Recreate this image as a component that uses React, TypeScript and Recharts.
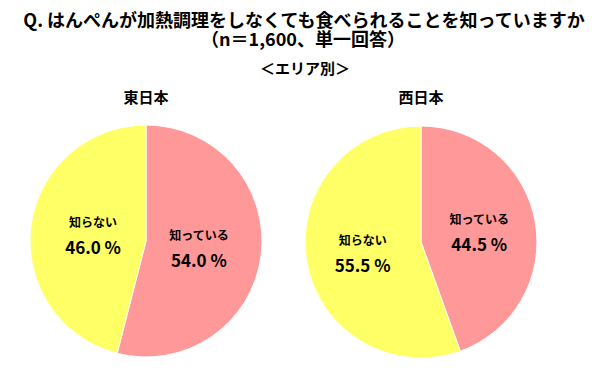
import React from 'react';
import { PieChart, Pie, Cell } from 'recharts';

const categories = ['知っている', '知らない'];
const eastValues = [54.0, 46.0];
const westValues = [44.5, 55.5];
const regionTitles = ['東日本', '西日本'];
const colors = ['#FF9999', '#FFFF66'];

const titleLine1 = 'Q. はんぺんが加熱調理をしなくても食べられることを知っていますか';
const titleLine2 = '（n＝1,600、単一回答）';
const subTitle = '＜エリア別＞';

const FONT = '"Noto Sans CJK JP", "Noto Sans", sans-serif';

const eastData = categories.map((name, i) => ({ name, value: eastValues[i] }));
const westData = categories.map((name, i) => ({ name, value: westValues[i] }));

const RAD = Math.PI / 180;

const makeLabel = (factor: number) => (props: any) => {
  const { cx, cy, midAngle, outerRadius, name, value } = props;
  const r = outerRadius * factor;
  const x = cx + r * Math.cos(-midAngle * RAD);
  const y = cy + r * Math.sin(-midAngle * RAD);
  return (
    <g>
      <text x={x} y={y - 13} textAnchor="middle" dominantBaseline="central"
        fontFamily={FONT} fontWeight="bold" fontSize={12} fill="#000">{name}</text>
      <text x={x} y={y + 12} textAnchor="middle" dominantBaseline="central"
        fontFamily={FONT} fontWeight="bold" fontSize={17} fill="#000">{value.toFixed(1)} %</text>
    </g>
  );
};

export default function App() {
  return (
    <div style={{ position: 'absolute', left: 0, top: 0, width: 614, height: 386, background: '#fff' }}>
      <PieChart width={614} height={386} margin={{ top: 0, right: 0, bottom: 0, left: 0 }}>
        <text x={304} y={19} textAnchor="middle" dominantBaseline="central"
          fontFamily={FONT} fontWeight="bold" fontSize={18} fill="#000">{titleLine1}</text>
        <text x={303} y={38} textAnchor="middle" dominantBaseline="central"
          fontFamily={FONT} fontWeight="bold" fontSize={18} fill="#000">{titleLine2}</text>
        <text x={305} y={67} textAnchor="middle" dominantBaseline="central"
          fontFamily={FONT} fontWeight="bold" fontSize={15} fill="#000">{subTitle}</text>
        <text x={146} y={96} textAnchor="middle" dominantBaseline="central"
          fontFamily={FONT} fontWeight="bold" fontSize={15} fill="#000">{regionTitles[0]}</text>
        <text x={421} y={96} textAnchor="middle" dominantBaseline="central"
          fontFamily={FONT} fontWeight="bold" fontSize={15} fill="#000">{regionTitles[1]}</text>
        <Pie data={eastData} dataKey="value" nameKey="name" cx={146} cy={241} outerRadius={116}
          startAngle={90} endAngle={-270} stroke="#fff" strokeWidth={1}
          label={makeLabel(0.46)} labelLine={false} isAnimationActive={false}>
          {eastData.map((d, i) => <Cell key={d.name} fill={colors[i]} />)}
        </Pie>
        <Pie data={westData} dataKey="value" nameKey="name" cx={421} cy={242} outerRadius={116}
          startAngle={90} endAngle={-270} stroke="#fff" strokeWidth={1}
          label={makeLabel(0.51)} labelLine={false} isAnimationActive={false}>
          {westData.map((d, i) => <Cell key={d.name} fill={colors[i]} />)}
        </Pie>
      </PieChart>
    </div>
  );
}
